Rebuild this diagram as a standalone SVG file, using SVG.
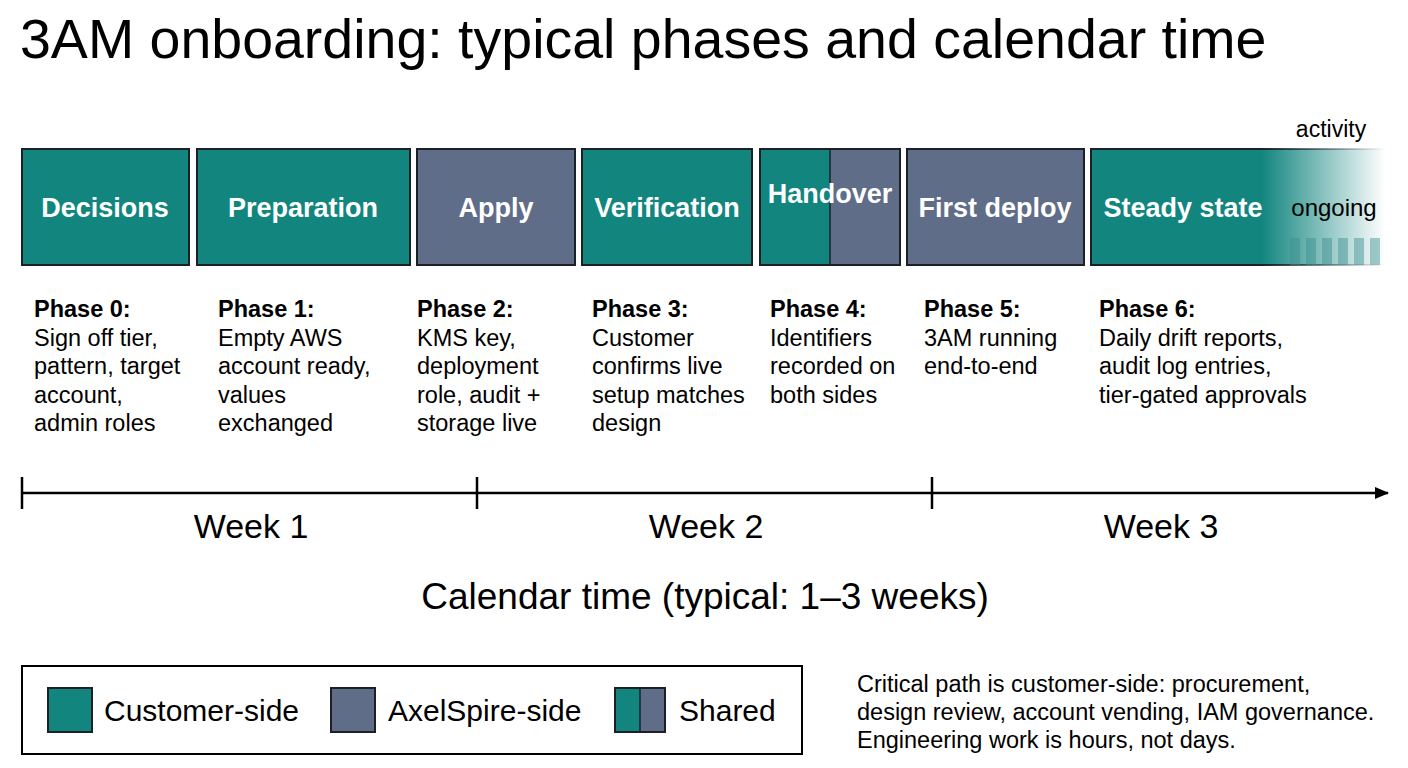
<svg xmlns="http://www.w3.org/2000/svg" width="1408" height="768" viewBox="0 0 1408 768">
<style>
text{font-family:"Liberation Sans",Arial,sans-serif;fill:#000}
.c{fill:#12857f}.a{fill:#5f6d88}
.bx{stroke:#1a2228;stroke-width:2}
.t{fill:#fff;font-weight:bold;font-size:27px;text-anchor:middle}
.ph{font-size:23.5px}
.wk{font-size:34px;text-anchor:middle}
</style>
<defs>
<linearGradient id="fade" x1="1091" y1="0" x2="1385" y2="0" gradientUnits="userSpaceOnUse">
<stop offset="0" stop-color="#12857f"/><stop offset="0.58" stop-color="#12857f"/><stop offset="1" stop-color="#12857f" stop-opacity="0"/>
</linearGradient>
<linearGradient id="fadeS" x1="1091" y1="0" x2="1385" y2="0" gradientUnits="userSpaceOnUse">
<stop offset="0" stop-color="#1a2228"/><stop offset="0.58" stop-color="#1a2228"/><stop offset="1" stop-color="#1a2228" stop-opacity="0"/>
</linearGradient>
<marker id="arr" markerWidth="14" markerHeight="12" refX="13" refY="6" orient="auto" markerUnits="userSpaceOnUse"><path d="M0,0 L14,6 L0,12 z" fill="#000"/></marker>
</defs>
<rect width="1408" height="768" fill="#fff"/>
<text x="20" y="58" font-size="55.5">3AM onboarding: typical phases and calendar time</text>
<text x="1331" y="137" font-size="23" text-anchor="middle">activity</text>

<g id="n0"><rect class="c bx" x="22" y="149" width="167" height="116"/><text class="t" x="105" y="217">Decisions</text></g>
<g id="n1"><rect class="c bx" x="197" y="149" width="213" height="116"/><text class="t" x="303" y="217">Preparation</text></g>
<g id="n2"><rect class="a bx" x="417" y="149" width="158" height="116"/><text class="t" x="496" y="217">Apply</text></g>
<g id="n3"><rect class="c bx" x="582" y="149" width="170" height="116"/><text class="t" x="667" y="217">Verification</text></g>
<g id="n4"><rect class="c" x="760" y="149" width="70" height="116"/><rect class="a" x="830" y="149" width="70" height="116"/><rect class="bx" fill="none" x="760" y="149" width="140" height="116"/><line x1="830" y1="149" x2="830" y2="265" stroke="#1a2228" stroke-width="1.5"/><text class="t" x="830" y="203">Handover</text></g>
<g id="n5"><rect class="a bx" x="907" y="149" width="177" height="116"/><text class="t" x="995" y="217">First deploy</text></g>
<g id="n6"><rect x="1091" y="149" width="294" height="116" fill="url(#fade)" stroke="url(#fadeS)" stroke-width="2"/>
<g fill="#3a8f8f" opacity="0.45"><rect x="1290" y="238" width="10" height="27"/><rect x="1306" y="238" width="10" height="27"/><rect x="1322" y="238" width="10" height="27"/><rect x="1338" y="238" width="10" height="27"/><rect x="1354" y="238" width="10" height="27"/><rect x="1370" y="238" width="10" height="27"/></g>
<text class="t" x="1183" y="217">Steady state</text><text x="1334" y="216" font-size="24" text-anchor="middle">ongoing</text></g>

<g class="ph">
<text x="34" y="317"><tspan font-weight="bold">Phase 0:</tspan><tspan x="34" dy="28.5">Sign off tier,</tspan><tspan x="34" dy="28.5">pattern, target</tspan><tspan x="34" dy="28.5">account,</tspan><tspan x="34" dy="28.5">admin roles</tspan></text>
<text x="218" y="317"><tspan font-weight="bold">Phase 1:</tspan><tspan x="218" dy="28.5">Empty AWS</tspan><tspan x="218" dy="28.5">account ready,</tspan><tspan x="218" dy="28.5">values</tspan><tspan x="218" dy="28.5">exchanged</tspan></text>
<text x="417" y="317"><tspan font-weight="bold">Phase 2:</tspan><tspan x="417" dy="28.5">KMS key,</tspan><tspan x="417" dy="28.5">deployment</tspan><tspan x="417" dy="28.5">role, audit +</tspan><tspan x="417" dy="28.5">storage live</tspan></text>
<text x="592" y="317"><tspan font-weight="bold">Phase 3:</tspan><tspan x="592" dy="28.5">Customer</tspan><tspan x="592" dy="28.5">confirms live</tspan><tspan x="592" dy="28.5">setup matches</tspan><tspan x="592" dy="28.5">design</tspan></text>
<text x="770" y="317"><tspan font-weight="bold">Phase 4:</tspan><tspan x="770" dy="28.5">Identifiers</tspan><tspan x="770" dy="28.5">recorded on</tspan><tspan x="770" dy="28.5">both sides</tspan></text>
<text x="924" y="317"><tspan font-weight="bold">Phase 5:</tspan><tspan x="924" dy="28.5">3AM running</tspan><tspan x="924" dy="28.5">end-to-end</tspan></text>
<text x="1099" y="317"><tspan font-weight="bold">Phase 6:</tspan><tspan x="1099" dy="28.5">Daily drift reports,</tspan><tspan x="1099" dy="28.5">audit log entries,</tspan><tspan x="1099" dy="28.5">tier-gated approvals</tspan></text>
</g>

<g id="connectors" stroke="#000" stroke-width="2.5">
<line x1="22" y1="493" x2="1388" y2="493" marker-end="url(#arr)"/>
<line x1="22" y1="477" x2="22" y2="509"/><line x1="477" y1="477" x2="477" y2="509"/><line x1="932" y1="477" x2="932" y2="509"/>
</g>
<text class="wk" x="251" y="538">Week 1</text>
<text class="wk" x="706" y="538">Week 2</text>
<text class="wk" x="1161" y="538">Week 3</text>
<text x="705" y="609" font-size="37" text-anchor="middle">Calendar time (typical: 1–3 weeks)</text>

<g id="legend">
<rect x="22" y="666" width="780" height="88" fill="#fff" stroke="#000" stroke-width="2"/>
<rect class="c bx" x="48" y="688" width="44" height="44"/><text x="104" y="721" font-size="30">Customer-side</text>
<rect class="a bx" x="331" y="688" width="44" height="44"/><text x="388" y="721" font-size="30">AxelSpire-side</text>
<rect class="c" x="615" y="688" width="25" height="44"/><rect class="a" x="640" y="688" width="25" height="44"/><rect class="bx" fill="none" x="615" y="688" width="50" height="44"/><line x1="640" y1="688" x2="640" y2="732" stroke="#1a2228" stroke-width="1.5"/><text x="679" y="721" font-size="30">Shared</text>
</g>
<text x="857" y="692" font-size="23.5"><tspan>Critical path is customer-side: procurement,</tspan><tspan x="857" dy="28">design review, account vending, IAM governance.</tspan><tspan x="857" dy="28">Engineering work is hours, not days.</tspan></text>
</svg>
